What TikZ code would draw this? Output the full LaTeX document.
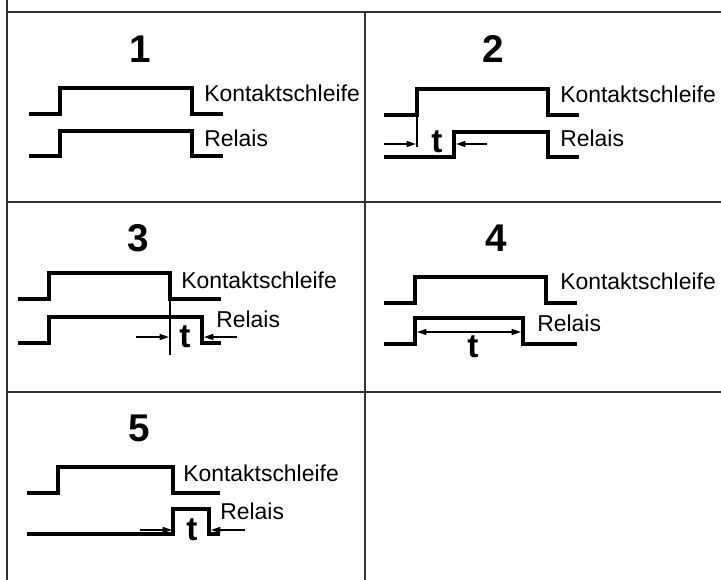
\documentclass[tikz,border=0pt]{standalone}
\usepackage{fontspec}
\setmainfont{Liberation Sans}
\usetikzlibrary{arrows.meta}
\begin{document}
\begin{tikzpicture}[x=0.75pt,y=-0.75pt,
  grid/.style={draw=black!80,line width=1.1pt},
  sig/.style={line width=2.4pt,line join=miter},
  thin/.style={line width=1.1pt},
  arr/.style={line width=1.1pt,-{Triangle[length=7pt,width=4.5pt]}},
  darr/.style={line width=1.1pt,{Triangle[length=7pt,width=4.5pt]}-{Triangle[length=7pt,width=4.5pt]}},
  lab/.style={anchor=base west,inner sep=0pt,font=\fontsize{17.2pt}{20pt}\selectfont},
  num/.style={inner sep=0pt,font=\fontsize{29pt}{32pt}\selectfont\bfseries},
  tlab/.style={inner sep=0pt,font=\fontsize{25pt}{28pt}\selectfont\bfseries}]
\useasboundingbox (0,0) rectangle (721,580);
% table grid
\draw[grid] (7,0) -- (7,580);
\draw[grid] (7,12) -- (721,12);
\draw[grid] (7,202) -- (721,202);
\draw[grid] (7,392) -- (721,392);
\draw[grid] (365,12) -- (365,580);
% ---- panel 1
\node[num] (n1) at (140,49) {1};
\draw[sig] (29,114) -- (60,114) -- (60,88) -- (192,88) -- (192,114) -- (223,114);
\draw[sig] (29,156) -- (60,156) -- (60,131) -- (192,131) -- (192,156) -- (223,156);
\node[lab] (k1) at (204,102) {Kontaktschleife};
\node[lab] (r1) at (204,147) {Relais};
% ---- panel 2
\node[num] (n2) at (493,49) {2};
\draw[sig] (384,115) -- (417,115) -- (417,89) -- (548,89) -- (548,115) -- (579,115);
\draw[sig] (384,157) -- (454,157) -- (454,132) -- (548,132) -- (548,157) -- (579,157);
\draw[thin] (417,115) -- (417,147);
\draw[arr] (384,144) -- (416,144);
\draw[arr] (487,144) -- (456,144);
\node[tlab] (t2) at (437,142) {t};
\node[lab] (k2) at (560,103) {Kontaktschleife};
\node[lab] (r2) at (560,147) {Relais};
% ---- panel 3
\node[num] (n3) at (138,238) {3};
\draw[sig] (18,299) -- (49,299) -- (49,273) -- (170,273) -- (170,299) -- (221,299);
\draw[sig] (18,343) -- (49,343) -- (49,317) -- (202,317) -- (202,343) -- (221,343);
\draw[thin] (170,299) -- (170,355);
\draw[arr] (136,337) -- (169,337);
\draw[arr] (237,337) -- (204,337);
\node[tlab] (t3) at (185,337) {t};
\node[lab] (k3) at (181,289) {Kontaktschleife};
\node[lab] (r3) at (216,328) {Relais};
% ---- panel 4
\node[num] (n4) at (496,238) {4};
\draw[sig] (384,303) -- (415,303) -- (415,277) -- (546,277) -- (546,303) -- (577,303);
\draw[sig] (384,344) -- (415,344) -- (415,318) -- (523,318) -- (523,344) -- (577,344);
\draw[darr] (417,332) -- (521,332);
\node[tlab] (t4) at (473,347) {t};
\node[lab] (k4) at (560,290) {Kontaktschleife};
\node[lab] (r4) at (537,332) {Relais};
% ---- panel 5
\node[num] (n5) at (139,428) {5};
\draw[sig] (27,493) -- (58,493) -- (58,467) -- (173,467) -- (173,493) -- (220,493);
\draw[sig] (27,534) -- (173,534) -- (173,509) -- (209,509) -- (209,534) -- (220,534);
\draw[arr] (140,530) -- (172,530);
\draw[arr] (245,530) -- (211,530);
\node[tlab] (t5) at (192,530) {t};
\node[lab] (k5) at (183,482) {Kontaktschleife};
\node[lab] (r5) at (220,520) {Relais};
\end{tikzpicture}
\end{document}
